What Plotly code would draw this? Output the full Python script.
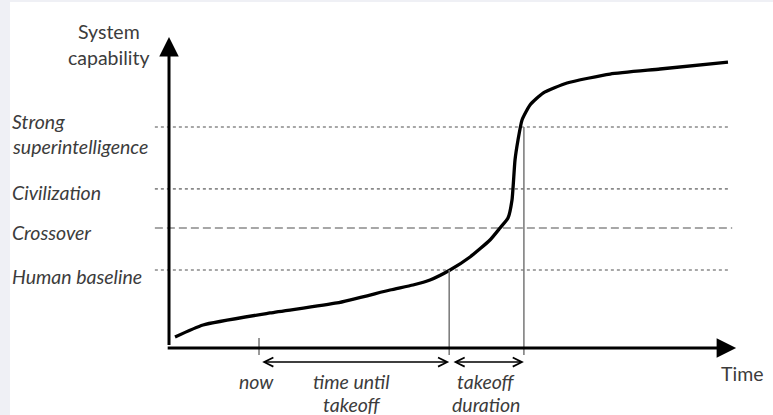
import plotly.graph_objects as go

# ---- data (time 0..100, capability 0..100) ----
curve_time = [1.06, 6.01, 17.84, 29.68, 39.05, 43.11, 46.11, 49.65, 53.18, 56.71, 58.48,
              59.89, 60.60, 61.13, 61.66, 62.37, 63.78, 66.08, 70.32, 77.92, 86.75, 98.76]
curve_capability = [3.59, 7.52, 11.44, 14.71, 18.95, 20.59, 22.22, 25.49, 29.74, 35.29, 39.22,
                    42.48, 48.37, 61.44, 67.97, 74.51, 79.41, 83.33, 86.60, 89.54, 91.18, 93.46]

level_names = ["Human baseline", "Crossover", "Civilization", "Strong superintelligence"]
level_values = [25.5, 39.2, 52.0, 72.2]
level_dashes = ["3px,3px", "8px,4px", "3px,3px", "3px,3px"]

t_now = 15.9
t_takeoff_start = 49.5
t_takeoff_end = 62.7

FONT = "Lato"
TXT = "#3c3c3c"
FS = 19.5

X_RANGE = [-29.86, 106.71]
Y_RANGE = [-21.90, 113.73]

fig = go.Figure()

fig.add_trace(go.Scatter(
    x=curve_time, y=curve_capability, mode="lines",
    line=dict(color="black", width=3.3, shape="spline", smoothing=0.5),
    hoverinfo="skip", showlegend=False))

shapes = []
# light gray strips at edges
shapes.append(dict(type="rect", xref="paper", yref="paper", x0=0, x1=10 / 773, y0=0, y1=1,
                   fillcolor="#eff0f5", line=dict(width=0), layer="below"))
shapes.append(dict(type="rect", xref="paper", yref="paper", x0=0, x1=1, y0=1 - 2 / 415, y1=1,
                   fillcolor="#eff0f5", line=dict(width=0), layer="below"))

# dashed level lines
for v, d in zip(level_values, level_dashes):
    x1 = 99.5 if d.startswith("8") else 98.8
    shapes.append(dict(type="line", xref="x", yref="y", x0=-2.5, x1=x1, y0=v, y1=v,
                       line=dict(color="#8a8a8a", width=1.6, dash=d), layer="below"))

# vertical guide lines
shapes.append(dict(type="line", xref="x", yref="y", x0=t_takeoff_start, x1=t_takeoff_start,
                   y0=level_values[0], y1=-2.3, line=dict(color="#777777", width=1.5)))
shapes.append(dict(type="line", xref="x", yref="y", x0=t_takeoff_end, x1=t_takeoff_end,
                   y0=level_values[3], y1=-2.3, line=dict(color="#777777", width=1.5)))
shapes.append(dict(type="line", xref="x", yref="y", x0=t_now, x1=t_now,
                   y0=3.3, y1=-2.3, line=dict(color="#777777", width=1.5)))

annotations = []
# axes with arrowheads
annotations.append(dict(x=0, y=101.6, ax=0, ay=0.5, xref="x", yref="y", axref="x", ayref="y",
                        showarrow=True, arrowhead=2, arrowsize=1.3, arrowwidth=3,
                        arrowcolor="black", text=""))
annotations.append(dict(x=100.2, y=0, ax=-0.5, ay=0, xref="x", yref="y", axref="x", ayref="y",
                        showarrow=True, arrowhead=2, arrowsize=1.3, arrowwidth=3,
                        arrowcolor="black", text=""))

# double-headed time arrows
for a, b in [(t_now + 0.3, t_takeoff_start), (t_takeoff_start + 0.5, t_takeoff_end)]:
    annotations.append(dict(x=b, y=-4.6, ax=a, ay=-4.6, xref="x", yref="y", axref="x", ayref="y",
                            showarrow=True, arrowhead=5, startarrowhead=5, arrowside="end+start",
                            arrowsize=1.2, startarrowsize=1.2, arrowwidth=1.5,
                            arrowcolor="black", text=""))

# level labels (text lines placed individually)
label_lines = [("Human baseline", 23.5), ("Crossover", 37.6), ("Civilization", 50.7),
               ("Strong", 73.9), ("superintelligence", 66.0)]
for txt, yy in label_lines:
    annotations.append(dict(x=-28.1, y=yy, xref="x", yref="y", text=txt,
                            showarrow=False, xanchor="left", yanchor="middle", align="left",
                            font=dict(family=FONT, size=FS, color=TXT, style="italic")))

# y axis title
annotations.append(dict(x=-10.6, y=103.3, xref="x", yref="y", text="System", showarrow=False,
                        font=dict(family=FONT, size=FS, color=TXT)))
annotations.append(dict(x=-10.6, y=95.1, xref="x", yref="y", text="capability", showarrow=False,
                        font=dict(family=FONT, size=FS, color=TXT)))
# x axis title
annotations.append(dict(x=101.2, y=-8.2, xref="x", yref="y", text="Time", showarrow=False,
                        font=dict(family=FONT, size=FS, color=TXT)))

# time labels
for txt, xx, yy in [("now", 15.5, -10.9), ("time until", 32.3, -10.9), ("takeoff", 32.3, -18.6),
                    ("takeoff", 56.0, -10.9), ("duration", 56.0, -18.6)]:
    annotations.append(dict(x=xx, y=yy, xref="x", yref="y", text=txt, showarrow=False,
                            font=dict(family=FONT, size=FS, color=TXT, style="italic")))

fig.update_layout(
    width=773, height=415,
    margin=dict(l=0, r=0, t=0, b=0),
    paper_bgcolor="white", plot_bgcolor="white",
    xaxis=dict(range=X_RANGE, visible=False, fixedrange=True),
    yaxis=dict(range=Y_RANGE, visible=False, fixedrange=True),
    shapes=shapes, annotations=annotations, showlegend=False,
)

fig.write_html("out.html", config={"displayModeBar": False},
               post_script="document.body.style.margin='0';document.body.style.overflow='hidden';")
